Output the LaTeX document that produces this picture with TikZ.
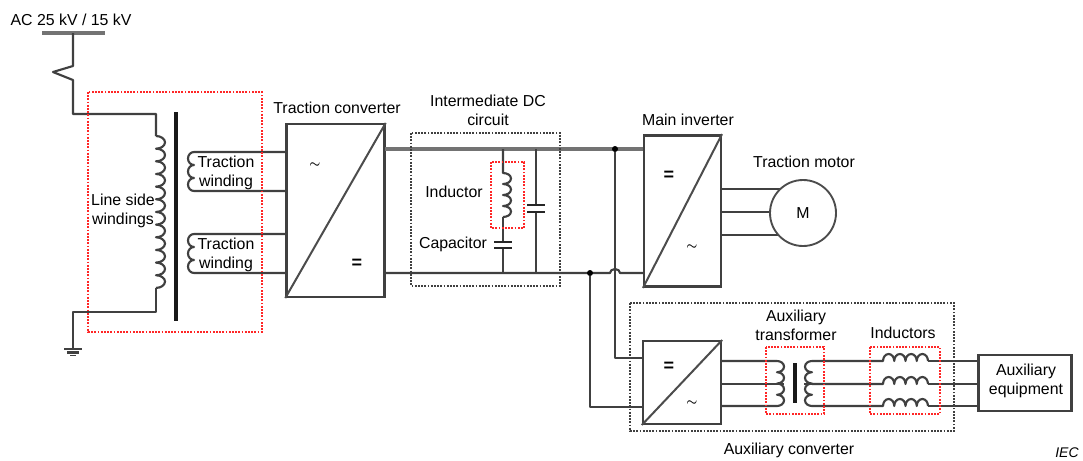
\documentclass[tikz,border=0pt]{standalone}
\usepackage{fontspec}
\setmainfont{Liberation Sans}
\usetikzlibrary{calc, positioning}

\begin{document}
\begin{tikzpicture}[x=0.75pt,y=-0.75pt,
                    wire/.style={draw=black!75,line width=1.6pt,line join=round},
                    bus/.style={draw=black!55,line width=2.4pt},
                    plate/.style={draw=black!85,line width=1.5pt},
                    core/.style={draw=black!90,line width=2.6pt},
                    conv box/.style={rectangle,draw=black!75,line width=1.8pt,fill=white,minimum width=#1},
                    grey frame/.style={draw=black!75,line width=1.4pt,densely dotted},
                    red frame/.style={draw=red!85,line width=1.4pt,densely dotted},
                    label node/.style={font=\fontsize{11.9}{14.25}\selectfont,align=center,inner sep=0pt},
                    sign node/.style={font=\fontsize{13.5}{14}\selectfont\bfseries,inner sep=0pt},
                    tilde node/.style={font=\fontsize{9.5}{10}\selectfont\boldmath,inner sep=0pt},
                    junction/.style={circle,fill=black,inner sep=0pt,minimum size=4.5pt}]
 \useasboundingbox (0,0) rectangle (1083,461);

%Converter boxes
 \node[conv box=73.5pt,minimum height=129.5pt] (TractionConv) at (335.5,210.5) {};
 \node[conv box=57.5pt,minimum height=113.5pt] (MainInv) at (682.5,211) {};
 \node[conv box=58.5pt,minimum height=62pt] (AuxConv) at (682,382.5) {};
 \node[conv box=70pt,minimum height=42pt] (AuxEquip) at (1025,383) {};

 \foreach \b in {TractionConv,MainInv,AuxConv}
    \draw[draw=black!70,line width=1.5pt] (\b.south west) -- (\b.north east);

%Line side winding
 \coordinate (BusL) at (42,33);
 \coordinate (BusR) at (105,33);
 \coordinate (BusT) at (73,33);
 \coordinate (ZigA) at (73,66);
 \coordinate (ZigB) at (53,72);
 \coordinate (ZigC) at (73,80);
 \coordinate (LineA) at (73,114);
 \coordinate (LineB) at (156,114);
 \coordinate (LineC) at (156,136);
 \coordinate (LineD) at (156,288);
 \coordinate (LineE) at (156,312);
 \coordinate (LineF) at (73,312);
 \coordinate (Earth) at (73,349);
 \draw[bus] (BusL) -- (BusR);
 \draw[wire] (BusT) -- (ZigA) -- (ZigB) -- (ZigC) -- (LineA) -- (LineB) -- (LineC);
 \draw[wire] (LineC) foreach \k in {1,...,12} {arc[start angle=-90,end angle=90,x radius=9,y radius=6.33]};
 \draw[wire] (LineD) -- (LineE) -- (LineF) -- (Earth);

 \draw[draw=black!75,line width=1.8pt] ($(Earth)+(-9,0)$) -- ($(Earth)+(9,0)$);
 \draw[draw=black!75,line width=1.6pt] ($(Earth)+(-6,3.5)$) -- ($(Earth)+(6,3.5)$);
 \draw[draw=black!75,line width=1.4pt] ($(Earth)+(-3,6.5)$) -- ($(Earth)+(3,6.5)$);

 \coordinate (CoreT) at (176,112);
 \coordinate (CoreB) at (176,321);
 \draw[core] (CoreT) -- (CoreB);

%Traction windings
 \foreach \n/\y in {Up/152,Low/234}
   {\coordinate (Sec\n) at (194,\y);
    \draw[wire] (TractionConv.west |- Sec\n) -- (Sec\n)
       foreach \k in {1,2,3} {arc[start angle=-90,end angle=-270,x radius=6,y radius=6.5]}
       -- (TractionConv.west |- 0,\y+39);}

%Intermediate DC circuit
 \coordinate (DcUp) at (385,149);
 \coordinate (DcLow) at (385,273);
 \coordinate (JumpA) at (610,273);
 \coordinate (JumpB) at (620,273);
 \coordinate (BranchA) at (503,149);
 \coordinate (BranchB) at (503,173);
 \coordinate (BranchC) at (503,217);
 \coordinate (BranchD) at (536,149);
 \draw[bus] (DcUp) -- (DcUp -| MainInv.west);
 \draw[wire] (DcLow) -- (JumpA) arc[start angle=180,end angle=0,x radius=5,y radius=-4] -- (JumpB -| MainInv.west);

 \draw[wire] (BranchA) -- (BranchB) foreach \k in {1,2,3,4} {arc[start angle=-90,end angle=90,x radius=8,y radius=5.5]};
 \draw[wire] (BranchC) -- (503,242) (503,248) -- (DcLow -| BranchC);
 \draw[wire] (BranchD) -- (536,205) (536,212) -- (DcLow -| BranchD);
 \foreach \x/\y in {503/242,503/248,536/205,536/212}
    \draw[plate] ($(\x,\y)+(-9,0)$) -- ($(\x,\y)+(9,0)$);

%Feeds to main inverter and auxiliary converter
 \node[junction] (DotUp) at (615,149) {};
 \node[junction] (DotLow) at (590,273) {};
 \coordinate (FeedA) at (615,358);
 \coordinate (FeedB) at (590,407);
 \draw[wire] (DotUp) -- (FeedA) -- (FeedA -| AuxConv.west);
 \draw[wire] (DotLow) -- (FeedB) -- (FeedB -| AuxConv.west);

%Motor wires
 \foreach \y in {189,212,235}
    \draw[wire] (MainInv.east |- 0,\y) -- (803,\y);
 \node[circle,draw=black!70,line width=1.4pt,fill=white,minimum size=49.5pt,inner sep=0pt,font=\fontsize{11.9}{14}\selectfont] (Motor) at (803,213) {M};

%Auxiliary transformer
 \coordinate (PriTop) at (777,361);
 \coordinate (PriMid) at (784,384);
 \coordinate (SecTop) at (812,361);
 \coordinate (SecMid) at (804,384);
 \coordinate (PriBot) at (777,406);
 \draw[wire] (AuxConv.east |- PriTop) -- (PriTop)
    foreach \k in {1,2,3,4} {arc[start angle=-90,end angle=90,x radius=7,y radius=5.625]}
    -- (AuxConv.east |- PriBot);
 \draw[wire] (AuxConv.east |- PriMid) -- (PriMid);
 \draw[core] (795,363) -- (795,403);
 \draw[wire] (SecTop) foreach \k in {1,2,3,4} {arc[start angle=-90,end angle=-270,x radius=7,y radius=5.625]};

%Auxiliary inductors
 \foreach \n/\y in {A/361,B/384,C/406}
   {\coordinate (IndL\n) at (883,\y);
    \coordinate (IndR\n) at (928,\y);
    \draw[wire] (812,\y) -- (IndL\n)
       foreach \k in {1,2,3,4} {arc[start angle=180,end angle=0,x radius=5.625,y radius=-7]};
    \draw[wire] (IndR\n) -- (IndR\n -| AuxEquip.west);}
 \draw[wire] (SecMid) -- (812,384);

%Frames
 \draw[red frame] (88,92) rectangle (262,332);
 \draw[red frame] (491,162) rectangle (524,228);
 \draw[red frame] (766,347) rectangle (824,414);
 \draw[red frame] (870,347) rectangle (940,414);
 \draw[grey frame] (411,133) rectangle (560,286);
 \draw[grey frame] (630,303) rectangle (954,431);

%Labels
 \node[label node] (AcLabel) at (71,20) {AC 25 kV / 15 kV};
 \node[label node] (LineLabel) at (123,211) {Line side\\windings};
 \node[label node] (WindLabelA) at (226,173) {Traction\\winding};
 \node[label node] (WindLabelB) at (226,254.5) {Traction\\winding};
 \node[label node] (ConvLabel) at (337,108) {Traction converter};
 \node[label node] (DcLabel) at (488,110) {Intermediate DC\\circuit};
 \node[label node] (IndLabel) at (454,192) {Inductor};
 \node[label node] (CapLabel) at (453,244) {Capacitor};
 \node[label node] (InvLabel) at (688,120) {Main inverter};
 \node[label node] (MotorLabel) at (804,162) {Traction motor};
 \node[label node] (TrafoLabel) at (796,325) {Auxiliary\\transformer};
 \node[label node] (InductorsLabel) at (903,333) {Inductors};
 \node[label node] (EquipLabel) at (1026,380.5) {Auxiliary\\equipment};
 \node[label node] (AuxLabel) at (789,450) {Auxiliary converter};
 \node[label node,font=\fontsize{10.5}{12}\selectfont\itshape] (IecLabel) at (1067,453) {IEC};

%Converter signs
 \node[tilde node] (AcA) at (315,165) {$\sim$};
 \node[sign node] (DcA) at (357,264) {=};
 \node[sign node] (DcB) at (669,176) {=};
 \node[tilde node] (AcB) at (692,247) {$\sim$};
 \node[sign node] (DcC) at (669,367) {=};
 \node[tilde node] (AcC) at (692,403) {$\sim$};
\end{tikzpicture}
\end{document}
